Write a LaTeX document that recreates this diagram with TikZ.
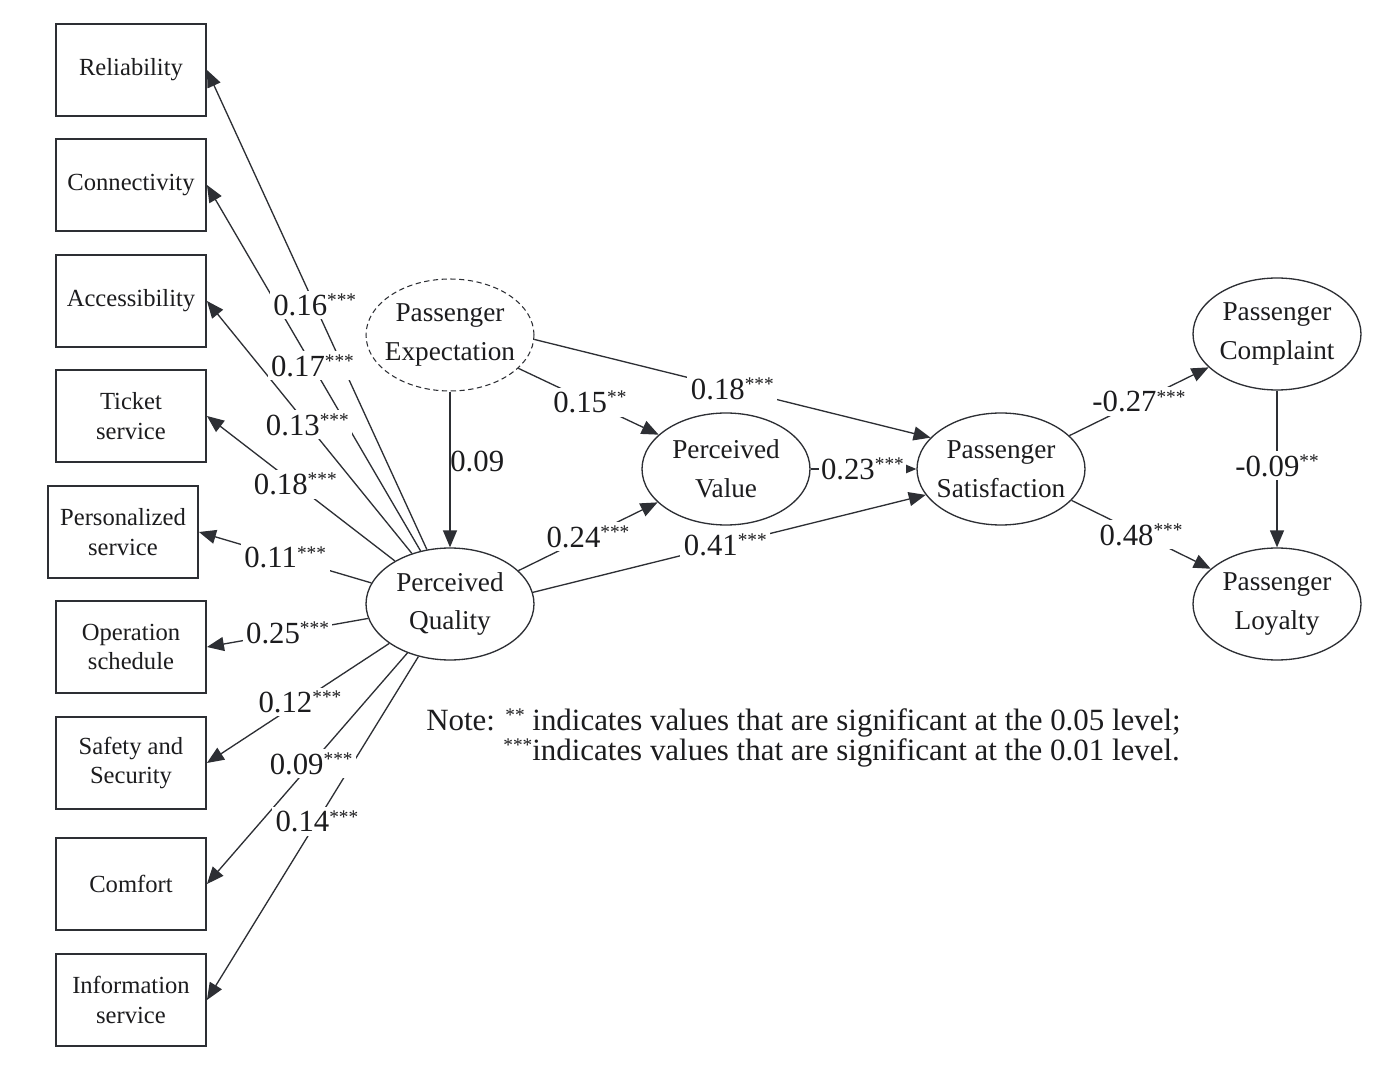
\documentclass[tikz,border=0pt]{standalone}
\usepackage{fontspec}
\setmainfont{Liberation Serif}
\usepackage{tikz}
\usetikzlibrary{shapes.geometric,arrows.meta}
\definecolor{linegray}{RGB}{45,47,52}
\definecolor{inkblack}{RGB}{28,28,30}
\newcommand{\stars}[1]{\raisebox{5pt}{\fontsize{11}{11}\selectfont #1}}
\newcommand{\twolines}[2]{\makebox[0pt]{#1}\\\makebox[0pt]{#2}}

\tikzset{
  factor/.style={draw=linegray, line width=1.1pt, minimum width=3cm, minimum height=1.84cm,
    align=center, text=inkblack, font=\fontsize{14}{17}\selectfont},
  latent/.style={ellipse, draw=linegray, line width=0.75pt, minimum width=3.36cm, minimum height=2.24cm,
    inner sep=0pt, align=center, text=inkblack, font=\fontsize{15.5}{22}\selectfont},
  link/.style={draw=linegray, line width=0.75pt, -{Triangle[length=0.34cm, width=0.28cm]}},
  coef/.style={fill=white, inner sep=2pt, text=inkblack, font=\fontsize{17.5}{20}\selectfont},
}

\begin{document}
\begin{tikzpicture}[x=0.02cm, y=-0.02cm]
    \useasboundingbox[fill=white] (0,0) rectangle (1396,1070);

    % observed dimensions of quality
    \node[factor] (rel) at (131,70) {Reliability};
    \node[factor] (conn) at (131,185) {Connectivity};
    \node[factor] (acc) at (131,301) {Accessibility};
    \node[factor] (tick) at (131,416) {Ticket\\service};
    \node[factor] (pers) at (123,532) {Personalized\\service};
    \node[factor] (oper) at (131,647) {Operation\\schedule};
    \node[factor] (safe) at (131,763) {Safety and\\Security};
    \node[factor] (comf) at (131,884) {Comfort};
    \node[factor] (info) at (131,1000) {Information\\service};

    % latent variables
    \node[latent, dash pattern=on 3pt off 2pt, line width=0.6pt] (pe) at (450,335) {\twolines{Passenger}{Expectation}};
    \node[latent] (pq) at (450,604) {\twolines{Perceived}{Quality}};
    \node[latent] (pv) at (726,469) {\twolines{Perceived}{Value}};
    \node[latent] (ps) at (1001,469) {\twolines{Passenger}{Satisfaction}};
    \node[latent] (pc) at (1277,334) {\twolines{Passenger}{Complaint}};
    \node[latent] (pl) at (1277,604) {\twolines{Passenger}{Loyalty}};

    % paths
    \draw[link] (pq.113) -- (rel.east);
    \draw[link] (pq.119) -- (conn.east);
    \draw[link] (pq.127) -- (acc.east);
    \draw[link] (pq.142) -- (tick.east);
    \draw[link] (pq.165) -- (pers.east);
    \draw[link] (pq.190) -- (oper.east);
    \draw[link] (pq.213) -- (safe.east);
    \draw[link] (pq.229) -- (comf.east);
    \draw[link] (pq.239) -- (info.east);

    \draw[link] (pe.south) -- (pq.north);
    \draw[link] (pe.-26) -- (pv.153);
    \draw[link] (pe.-3) -- (ps.156);
    \draw[link] (pq.26) -- (pv.206);
    \draw[link] (pq.8) -- (ps.199);
    \draw[link] (pv.east) -- (ps.west);
    \draw[link] (ps.26) -- (pc.206);
    \draw[link] (ps.-24) -- (pl.152);
    \draw[link] (pc.south) -- (pl.north);

    % coefficients
    \path (pq.113) -- node[coef, pos=0.51] (k1) {0.16\stars{***}} (rel.east);
    \path (pq.119) -- node[coef, pos=0.506] (k2) {0.17\stars{***}} (conn.east);
    \path (pq.127) -- node[coef, pos=0.51] (k3) {0.13\stars{***}} (acc.east);
    \path (pq.142) -- node[coef, pos=0.53] (k4) {0.18\stars{***}} (tick.east);
    \path (pq.165) -- node[coef, pos=0.5] (k5) {0.11\stars{***}} (pers.east);
    \path (pq.190) -- node[coef, pos=0.5] (k6) {0.25\stars{***}} (oper.east);
    \path (pq.213) -- node[coef, pos=0.49] (k7) {0.12\stars{***}} (safe.east);
    \path (pq.229) -- node[coef, pos=0.48] (k8) {0.09\stars{***}} (comf.east);
    \path (pq.239) -- node[coef, pos=0.48] (k9) {0.14\stars{***}} (info.east);

    \path (pe.south) -- node[coef, pos=0.45, anchor=west, inner sep=0pt, fill=none] (k10) {0.09} (pq.north);
    \path (pe.-26) -- node[coef, pos=0.51] (k11) {0.15\stars{**}} (pv.153);
    \path (pe.-3) -- node[coef, pos=0.5] (k12) {0.18\stars{***}} (ps.156);
    \path (pq.26) -- node[coef, pos=0.5] (k13) {0.24\stars{***}} (pv.206);
    \path (pq.8) -- node[coef, pos=0.49] (k14) {0.41\stars{***}} (ps.199);
    \path (pv.east) -- node[coef, pos=0.49, inner sep=1pt] (k15) {0.23\stars{***}} (ps.west);
    \path (ps.26) -- node[coef, pos=0.5] (k16) {-0.27\stars{***}} (pc.206);
    \path (ps.-24) -- node[coef, pos=0.5] (k17) {0.48\stars{***}} (pl.152);
    \path (pc.south) -- node[coef, pos=0.48] (k18) {-0.09\stars{**}} (pl.north);

    % note
    \node[anchor=base west, text=inkblack, font=\fontsize{17.6}{18}\selectfont, inner sep=0pt] (note) at (426,730)
        {Note: \stars{**} indicates values that are significant at the 0.05 level;};
    \node[anchor=base west, text=inkblack, font=\fontsize{17.6}{18}\selectfont, inner sep=0pt] (note2) at (503,760)
        {\stars{***}indicates values that are significant at the 0.01 level.};
\end{tikzpicture}
\end{document}
